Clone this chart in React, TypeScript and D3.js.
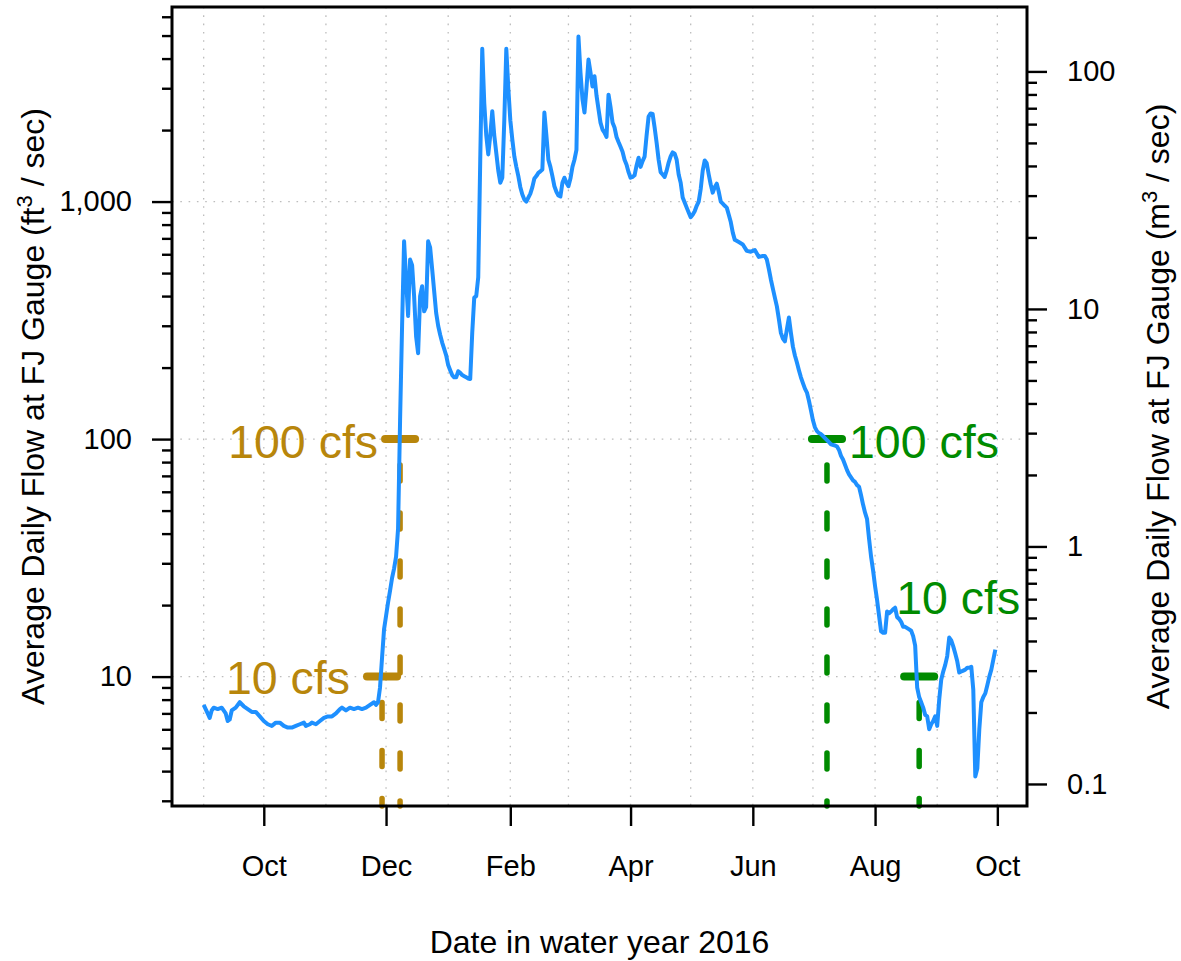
import React, { useEffect, useRef } from 'react';
import * as d3 from 'd3';

// daily flow readings at the FJ gauge (cfs)
const flowDates = [
  '2015-09-01', '2015-09-02', '2015-09-03', '2015-09-04', '2015-09-05', '2015-09-06', '2015-09-08', '2015-09-10',
  '2015-09-12', '2015-09-13', '2015-09-14', '2015-09-15', '2015-09-17', '2015-09-19', '2015-09-21', '2015-09-23',
  '2015-09-25', '2015-09-27', '2015-09-29', '2015-10-01', '2015-10-03', '2015-10-05', '2015-10-07', '2015-10-09',
  '2015-10-11', '2015-10-13', '2015-10-15', '2015-10-17', '2015-10-19', '2015-10-21', '2015-10-22', '2015-10-24',
  '2015-10-25', '2015-10-27', '2015-10-29', '2015-10-31', '2015-11-02', '2015-11-04', '2015-11-06', '2015-11-08',
  '2015-11-09', '2015-11-11', '2015-11-13', '2015-11-15', '2015-11-17', '2015-11-19', '2015-11-21', '2015-11-23',
  '2015-11-25', '2015-11-26', '2015-11-27', '2015-11-28', '2015-11-29', '2015-11-30', '2015-12-01', '2015-12-02',
  '2015-12-03', '2015-12-04', '2015-12-05', '2015-12-06', '2015-12-07', '2015-12-08', '2015-12-09', '2015-12-10',
  '2015-12-11', '2015-12-12', '2015-12-13', '2015-12-14', '2015-12-15', '2015-12-16', '2015-12-17', '2015-12-18',
  '2015-12-19', '2015-12-20', '2015-12-21', '2015-12-22', '2015-12-23', '2015-12-24', '2015-12-25', '2015-12-26',
  '2015-12-27', '2015-12-28', '2015-12-29', '2015-12-30', '2015-12-31', '2016-01-01', '2016-01-02', '2016-01-03',
  '2016-01-04', '2016-01-05', '2016-01-06', '2016-01-07', '2016-01-08', '2016-01-09', '2016-01-10', '2016-01-11',
  '2016-01-12', '2016-01-13', '2016-01-14', '2016-01-15', '2016-01-16', '2016-01-17', '2016-01-18', '2016-01-19',
  '2016-01-20', '2016-01-21', '2016-01-22', '2016-01-23', '2016-01-24', '2016-01-25', '2016-01-26', '2016-01-27',
  '2016-01-28', '2016-01-29', '2016-01-30', '2016-01-31', '2016-02-01', '2016-02-02', '2016-02-03', '2016-02-04',
  '2016-02-05', '2016-02-06', '2016-02-07', '2016-02-08', '2016-02-09', '2016-02-10', '2016-02-11', '2016-02-12',
  '2016-02-13', '2016-02-14', '2016-02-15', '2016-02-16', '2016-02-17', '2016-02-18', '2016-02-19', '2016-02-20',
  '2016-02-21', '2016-02-22', '2016-02-23', '2016-02-24', '2016-02-25', '2016-02-26', '2016-02-27', '2016-02-28',
  '2016-02-29', '2016-03-01', '2016-03-02', '2016-03-03', '2016-03-04', '2016-03-05', '2016-03-06', '2016-03-07',
  '2016-03-08', '2016-03-09', '2016-03-10', '2016-03-11', '2016-03-12', '2016-03-13', '2016-03-14', '2016-03-15',
  '2016-03-16', '2016-03-17', '2016-03-18', '2016-03-19', '2016-03-20', '2016-03-21', '2016-03-22', '2016-03-23',
  '2016-03-24', '2016-03-25', '2016-03-26', '2016-03-27', '2016-03-28', '2016-03-29', '2016-03-30', '2016-03-31',
  '2016-04-01', '2016-04-02', '2016-04-03', '2016-04-04', '2016-04-05', '2016-04-06', '2016-04-07', '2016-04-08',
  '2016-04-09', '2016-04-10', '2016-04-11', '2016-04-12', '2016-04-13', '2016-04-14', '2016-04-15', '2016-04-16',
  '2016-04-17', '2016-04-18', '2016-04-19', '2016-04-20', '2016-04-21', '2016-04-22', '2016-04-23', '2016-04-24',
  '2016-04-25', '2016-04-26', '2016-04-27', '2016-04-28', '2016-04-29', '2016-04-30', '2016-05-01', '2016-05-02',
  '2016-05-03', '2016-05-04', '2016-05-05', '2016-05-06', '2016-05-07', '2016-05-08', '2016-05-09', '2016-05-10',
  '2016-05-11', '2016-05-12', '2016-05-13', '2016-05-14', '2016-05-15', '2016-05-16', '2016-05-17', '2016-05-18',
  '2016-05-19', '2016-05-20', '2016-05-21', '2016-05-22', '2016-05-23', '2016-05-25', '2016-05-27', '2016-05-29',
  '2016-05-31', '2016-06-01', '2016-06-02', '2016-06-03', '2016-06-04', '2016-06-06', '2016-06-07', '2016-06-08',
  '2016-06-09', '2016-06-10', '2016-06-11', '2016-06-12', '2016-06-13', '2016-06-14', '2016-06-15', '2016-06-16',
  '2016-06-17', '2016-06-18', '2016-06-19', '2016-06-20', '2016-06-21', '2016-06-22', '2016-06-23', '2016-06-24',
  '2016-06-25', '2016-06-26', '2016-06-27', '2016-06-28', '2016-06-29', '2016-06-30', '2016-07-01', '2016-07-02',
  '2016-07-03', '2016-07-04', '2016-07-05', '2016-07-06', '2016-07-07', '2016-07-08', '2016-07-09', '2016-07-10',
  '2016-07-12', '2016-07-13', '2016-07-14', '2016-07-15', '2016-07-16', '2016-07-17', '2016-07-18', '2016-07-19',
  '2016-07-20', '2016-07-21', '2016-07-22', '2016-07-23', '2016-07-24', '2016-07-25', '2016-07-26', '2016-07-27',
  '2016-07-28', '2016-07-29', '2016-07-30', '2016-07-31', '2016-08-01', '2016-08-02', '2016-08-03', '2016-08-04',
  '2016-08-05', '2016-08-06', '2016-08-07', '2016-08-08', '2016-08-09', '2016-08-10', '2016-08-11', '2016-08-12',
  '2016-08-13', '2016-08-14', '2016-08-15', '2016-08-16', '2016-08-17', '2016-08-18', '2016-08-19', '2016-08-20',
  '2016-08-21', '2016-08-22', '2016-08-23', '2016-08-24', '2016-08-25', '2016-08-26', '2016-08-27', '2016-08-28',
  '2016-08-29', '2016-08-30', '2016-08-31', '2016-09-01', '2016-09-02', '2016-09-03', '2016-09-04', '2016-09-05',
  '2016-09-06', '2016-09-07', '2016-09-08', '2016-09-09', '2016-09-10', '2016-09-11', '2016-09-12', '2016-09-13',
  '2016-09-14', '2016-09-15', '2016-09-16', '2016-09-17', '2016-09-18', '2016-09-19', '2016-09-20', '2016-09-21',
  '2016-09-22', '2016-09-23', '2016-09-24', '2016-09-25', '2016-09-26', '2016-09-27', '2016-09-28', '2016-09-29',
  '2016-09-30',
];

const flowCfs = [
  7.6, 7.3, 7.0, 6.7, 7.2, 7.4, 7.3, 7.4,
  7.0, 6.5, 6.6, 7.2, 7.4, 7.8, 7.5, 7.3,
  7.1, 7.1, 6.8, 6.5, 6.3, 6.2, 6.4, 6.4,
  6.2, 6.1, 6.1, 6.2, 6.3, 6.4, 6.2, 6.3,
  6.4, 6.3, 6.5, 6.7, 6.8, 6.8, 7.0, 7.3,
  7.4, 7.2, 7.4, 7.3, 7.4, 7.3, 7.4, 7.6,
  7.8, 7.6, 7.8, 9.0, 12, 15.8, 18, 20.5,
  23, 26, 28.5, 32, 42, 120, 300, 680,
  470, 330, 570, 540, 400, 270, 230, 400,
  440, 345, 360, 680, 640, 520, 420, 340,
  300, 275, 255, 240, 225, 205, 195, 186,
  182, 182, 193, 190, 186, 184, 182, 180,
  179, 280, 394, 400, 480, 1500, 4400, 2600,
  1900, 1580, 1900, 2400, 1900, 1600, 1350, 1200,
  1260, 2200, 4400, 3000, 2200, 1825, 1550, 1400,
  1280, 1150, 1070, 1020, 1000, 1040, 1080, 1150,
  1250, 1280, 1320, 1340, 1365, 2370, 1900, 1500,
  1400, 1280, 1160, 1100, 1060, 1050, 1200, 1260,
  1200, 1160, 1250, 1400, 1500, 1650, 4950, 3500,
  2700, 2370, 3000, 3960, 3500, 3050, 3370, 2800,
  2450, 2150, 2010, 1950, 1870, 2820, 2500, 2150,
  2050, 1870, 1780, 1700, 1620, 1500, 1430, 1330,
  1260, 1270, 1290, 1420, 1530, 1400, 1480, 1546,
  1900, 2280, 2350, 2340, 2050, 1770, 1500, 1330,
  1300, 1270, 1350, 1460, 1550, 1610, 1590, 1500,
  1300, 1200, 1040, 990, 943, 900, 860, 880,
  910, 960, 1000, 1130, 1350, 1490, 1450, 1300,
  1180, 1090, 1150, 1190, 1100, 1000, 980, 960,
  943, 880, 820, 740, 690, 675, 660, 620,
  615, 620, 625, 605, 585, 590, 590, 570,
  520, 470, 430, 394, 362, 320, 280, 265,
  258, 290, 325, 280, 245, 225, 210, 195,
  182, 172, 163, 157, 145, 132, 120, 112,
  108, 106, 105, 103, 101, 99, 97, 95,
  94, 93, 90, 85, 82, 78, 74, 71,
  69, 67, 66, 64, 63, 58, 53, 49,
  46, 38, 32, 28, 24, 21, 18, 15.5,
  15.3, 15.3, 18.8, 18.5, 18.8, 19.2, 19.5, 17.8,
  17.5, 17, 16.2, 16.2, 16, 15.8, 15.6, 14.8,
  13.5, 9, 8.2, 7.8, 7.4, 6.9, 6.8, 6.0,
  6.3, 6.5, 6.8, 6.2, 8, 9.7, 10.5, 11.2,
  12.2, 14.6, 14.2, 13.4, 12.5, 11.6, 10.4, 10.5,
  10.6, 10.7, 10.9, 10.9, 11.0, 8.8, 3.8, 4.1,
  6, 7.8, 8.2, 8.5, 9.2, 10, 10.7, 11.8,
  13.0,
];

// threshold crossings (fall rise above / summer drop below)
const crossingDates = ['2015-11-29', '2015-12-08', '2016-07-08', '2016-08-23'];
const crossingCfs = [10, 100, 100, 10];
const crossingLabels = ['10 cfs', '100 cfs', '100 cfs', '10 cfs'];

const xTickDates = ['2015-10-01', '2015-12-01', '2016-02-01', '2016-04-01', '2016-06-01', '2016-08-01', '2016-10-01'];
const xTickLabels = ['Oct', 'Dec', 'Feb', 'Apr', 'Jun', 'Aug', 'Oct'];
const leftTicks = [10, 100, 1000];
const rightTicks = [0.1, 1, 10, 100];

const CFS_TO_CMS = 0.0283168;
const FONT = "'Liberation Sans', Arial, Helvetica, sans-serif";
const GOLD = '#B8860B';
const GREEN = '#008B00';
const BLUE = '#1E90FF';

const W = 1181;
const H = 961;
const margin = { top: 7, right: 154, bottom: 155, left: 172 };
const TICK_FS = 29;
const TITLE_FS = 32;

const App = () => {
  const ref = useRef(null);

  useEffect(() => {
    document.body.style.margin = '0';
    const parse = d3.timeParse('%Y-%m-%d');
    const data = flowDates.map((d, i) => ({ date: parse(d), value: flowCfs[i] }));

    const svg = d3.select(ref.current);
    svg.selectAll('*').remove();
    svg.attr('width', W).attr('height', H).style('background', '#fff');

    const left = margin.left;
    const right = W - margin.right;
    const top = margin.top;
    const bottom = H - margin.bottom;

    // R style 4% padding on both scales
    const [d0, d1] = d3.extent(data, d => d.date);
    const pad = (d1 - d0) * 0.04;
    const x = d3.scaleTime()
      .domain([new Date(+d0 - pad), new Date(+d1 + pad)])
      .range([left, right]);

    const [lmin, lmax] = d3.extent(data, d => Math.log10(d.value));
    const lpad = (lmax - lmin) * 0.04;
    const y = d3.scaleLog()
      .domain([10 ** (lmin - lpad), 10 ** (lmax + lpad)])
      .range([bottom, top]);
    const yR = d3.scaleLog()
      .domain(y.domain().map(v => v * CFS_TO_CMS))
      .range([bottom, top]);

    const isDecade = v => Math.abs(Math.log10(v) - Math.round(Math.log10(v))) < 1e-6;

    // grid
    const grid = svg.append('g')
      .attr('stroke', '#bdbdbd')
      .attr('stroke-width', 1.3)
      .attr('stroke-dasharray', '1.6 6.7');
    grid.selectAll('.vgrid')
      .data(d3.timeMonth.range(parse('2015-09-01'), parse('2016-10-02')))
      .enter()
      .append('line')
      .attr('x1', d => x(d)).attr('x2', d => x(d))
      .attr('y1', top).attr('y2', bottom);
    grid.selectAll('.hgrid')
      .data(leftTicks)
      .enter()
      .append('line')
      .attr('x1', left).attr('x2', right)
      .attr('y1', d => y(d)).attr('y2', d => y(d));

    // threshold markers
    const marks = crossingDates.map((d, i) => ({
      date: parse(d),
      cfs: crossingCfs[i],
      label: crossingLabels[i],
      color: i < 2 ? GOLD : GREEN,
    }));
    const halfSpan = 180; // hours either side of the crossing date

    const mk = svg.append('g');
    mk.selectAll('.vdash')
      .data(marks)
      .enter()
      .append('line')
      .attr('x1', d => x(d.date)).attr('x2', d => x(d.date))
      .attr('y1', d => y(d.cfs)).attr('y2', bottom)
      .attr('stroke', d => d.color)
      .attr('stroke-width', 5.5)
      .attr('stroke-linecap', 'round')
      .attr('stroke-dasharray', '16 32')
      .attr('stroke-dashoffset', 22);
    mk.selectAll('.hbar')
      .data(marks)
      .enter()
      .append('line')
      .attr('x1', d => x(d3.timeHour.offset(d.date, -halfSpan)))
      .attr('x2', d => x(d3.timeHour.offset(d.date, halfSpan)))
      .attr('y1', d => y(d.cfs)).attr('y2', d => y(d.cfs))
      .attr('stroke', d => d.color)
      .attr('stroke-width', 8)
      .attr('stroke-linecap', 'round');

    // label placement: anchor, offset from bar end (or centre), vertical offset
    const placement = [
      { anchor: 'end', from: 'start', dx: -17, dy: 1 },
      { anchor: 'end', from: 'start', dx: -7, dy: 2 },
      { anchor: 'start', from: 'end', dx: 7, dy: 2 },
      { anchor: 'start', from: 'mid', dx: -23, dy: -79 },
    ];
    const fs = 46.5;
    mk.selectAll('.mlabel')
      .data(marks)
      .enter()
      .append('text')
      .attr('x', (d, i) => {
        const p = placement[i];
        const base = p.from === 'start'
          ? x(d3.timeHour.offset(d.date, -halfSpan))
          : p.from === 'end'
            ? x(d3.timeHour.offset(d.date, halfSpan))
            : x(d.date);
        return base + p.dx;
      })
      .attr('y', (d, i) => y(d.cfs) + placement[i].dy + fs * 0.36)
      .attr('text-anchor', (d, i) => placement[i].anchor)
      .attr('font-family', FONT)
      .attr('font-size', fs)
      .attr('fill', d => d.color)
      .text(d => d.label);

    // flow line
    svg.append('clipPath').attr('id', 'plotclip')
      .append('rect')
      .attr('x', left).attr('y', top)
      .attr('width', right - left).attr('height', bottom - top);

    const line = d3.line()
      .x(d => x(d.date))
      .y(d => y(d.value));

    svg.append('path')
      .datum(data)
      .attr('clip-path', 'url(#plotclip)')
      .attr('fill', 'none')
      .attr('stroke', BLUE)
      .attr('stroke-width', 4)
      .attr('stroke-linejoin', 'round')
      .attr('d', line);

    // axes
    const styleAxis = (g, w) => {
      g.select('.domain').remove();
      g.attr('font-family', FONT).attr('font-size', TICK_FS);
      g.selectAll('line').attr('stroke', '#000').attr('stroke-width', w);
      g.selectAll('text').attr('fill', '#000');
    };

    svg.append('g')
      .attr('transform', `translate(${left},0)`)
      .call(d3.axisLeft(y).tickValues(leftTicks).tickFormat(d3.format(',')).tickSize(20).tickPadding(20))
      .call(g => styleAxis(g, 2.4));
    svg.append('g')
      .attr('transform', `translate(${left},0)`)
      .call(d3.axisLeft(y).tickValues(y.ticks().filter(v => !isDecade(v))).tickFormat(() => '').tickSize(10))
      .call(g => styleAxis(g, 2.4));

    svg.append('g')
      .attr('transform', `translate(${right},0)`)
      .call(d3.axisRight(yR).tickValues(rightTicks).tickFormat(d3.format('')).tickSize(20).tickPadding(20))
      .call(g => styleAxis(g, 2.4));
    svg.append('g')
      .attr('transform', `translate(${right},0)`)
      .call(d3.axisRight(yR).tickValues(yR.ticks().filter(v => !isDecade(v) && v > 0.1)).tickFormat(() => '').tickSize(10))
      .call(g => styleAxis(g, 2.4));

    svg.append('g')
      .attr('transform', `translate(0,${bottom})`)
      .call(d3.axisBottom(x).tickValues(xTickDates.map(parse)).tickFormat((d, i) => xTickLabels[i]).tickSize(20).tickPadding(29))
      .call(g => styleAxis(g, 2.4));

    // plot frame
    svg.append('rect')
      .attr('x', left).attr('y', top)
      .attr('width', right - left).attr('height', bottom - top)
      .attr('fill', 'none')
      .attr('stroke', '#000')
      .attr('stroke-width', 3);

    // axis titles
    const titleY = svg.append('text')
      .attr('transform', `translate(44,${(top + bottom) / 2}) rotate(-90)`)
      .attr('text-anchor', 'middle')
      .attr('font-family', FONT)
      .attr('font-size', TITLE_FS)
      .attr('fill', '#000');
    titleY.append('tspan').text('Average Daily Flow at FJ Gauge (ft');
    titleY.append('tspan').attr('baseline-shift', 'super').attr('font-size', 22).text('3');
    titleY.append('tspan').text(' / sec)');

    const titleR = svg.append('text')
      .attr('transform', `translate(1169,${(top + bottom) / 2}) rotate(-90)`)
      .attr('text-anchor', 'middle')
      .attr('font-family', FONT)
      .attr('font-size', TITLE_FS)
      .attr('fill', '#000');
    titleR.append('tspan').text('Average Daily Flow at FJ Gauge (m');
    titleR.append('tspan').attr('baseline-shift', 'super').attr('font-size', 22).text('3');
    titleR.append('tspan').text(' / sec)');

    svg.append('text')
      .attr('x', (left + right) / 2)
      .attr('y', 953)
      .attr('text-anchor', 'middle')
      .attr('font-family', FONT)
      .attr('font-size', TITLE_FS)
      .attr('fill', '#000')
      .text('Date in water year 2016');
  }, []);

  return <svg ref={ref} style={{ display: 'block' }}></svg>;
};

export default App;
